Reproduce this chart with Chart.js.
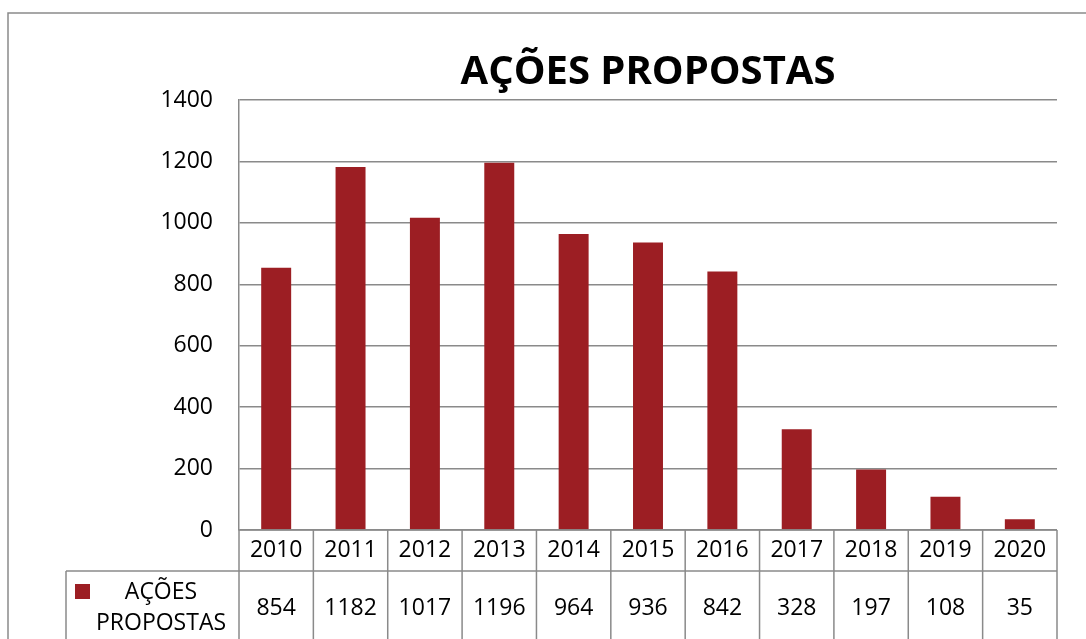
<!DOCTYPE html>
<html>
<head>
<meta charset="utf-8">
<script src="https://cdn.jsdelivr.net/npm/chart.js@4/dist/chart.umd.min.js"></script>
<style>
  body { margin: 0; background: #fff; }
  canvas { display: block; }
</style>
</head>
<body>
<canvas id="chart" width="1086" height="639"></canvas>
<script>
const years = ['2010', '2011', '2012', '2013', '2014', '2015', '2016', '2017', '2018', '2019', '2020']
const acoesPropostas = [854, 1182, 1017, 1196, 964, 936, 842, 328, 197, 108, 35]
const seriesName = 'AÇÕES PROPOSTAS'
const yMax = 1400
const yStep = 200

const barColor = '#9c1e23'
const lineColor = '#8a8a8a'
const font = '"Open Sans", sans-serif'

// excel style data table under the plot, drawn from the x scale positions
const dataTable = {
    id: 'dataTable',
    beforeDraw(chart) {
        const ctx = chart.ctx
        ctx.save()
        ctx.strokeStyle = lineColor
        ctx.lineWidth = 1.5
        ctx.beginPath()
        ctx.moveTo(8, chart.height)
        ctx.lineTo(8, 13)
        ctx.lineTo(chart.width, 13)
        ctx.stroke()
        ctx.restore()
    },
    afterDraw(chart) {
        const { ctx, chartArea } = chart
        const x = chart.scales.x
        const top = chartArea.bottom
        const mid = top + 41
        const bottom = chart.height
        const half = (x.getPixelForValue(1) - x.getPixelForValue(0)) / 2
        const legendLeft = 66

        ctx.save()
        ctx.strokeStyle = lineColor
        ctx.lineWidth = 1.5
        ctx.beginPath()
        ctx.moveTo(chartArea.left, top)
        ctx.lineTo(chartArea.right, top)
        ctx.moveTo(legendLeft, mid)
        ctx.lineTo(chartArea.right, mid)
        ctx.moveTo(legendLeft, mid)
        ctx.lineTo(legendLeft, bottom)
        for (let i = 0; i <= years.length; i++) {
            const px = x.getPixelForValue(0) - half + i * half * 2
            ctx.moveTo(px, top)
            ctx.lineTo(px, bottom)
        }
        ctx.stroke()

        ctx.fillStyle = '#000'
        ctx.font = '23px ' + font
        ctx.textAlign = 'center'
        ctx.textBaseline = 'middle'
        years.forEach((yr, i) => {
            const px = x.getPixelForValue(i)
            ctx.fillText(yr, px, top + 20.5)
            ctx.fillText(String(acoesPropostas[i]), px, mid + 37)
        })

        // legend key cell
        ctx.fillStyle = barColor
        ctx.fillRect(75, mid + 13, 15, 15)
        ctx.fillStyle = '#000'
        const words = seriesName.split(' ')
        ctx.fillText(words[0], 161, mid + 21)
        ctx.fillText(words[1], 161, mid + 52)
        ctx.restore()
    }
}

const ctx = document.getElementById('chart').getContext('2d')
new Chart(ctx, {
    type: 'bar',
    data: {
        labels: years,
        datasets: [{
            label: seriesName,
            data: acoesPropostas,
            backgroundColor: barColor,
            categoryPercentage: 1,
            barPercentage: 0.403
        }]
    },
    options: {
        responsive: false,
        animation: false,
        layout: { padding: { left: 0, right: 29, top: 0, bottom: 0 } },
        plugins: {
            legend: { display: false },
            tooltip: { enabled: false },
            title: {
                display: true,
                text: seriesName,
                fullSize: false,
                color: '#000',
                font: { family: font, size: 40, weight: 'bold', lineHeight: 1.2 },
                padding: { top: 49, bottom: 3 }
            }
        },
        scales: {
            x: {
                grid: { display: false },
                border: { display: false },
                ticks: { display: false },
                afterFit(scale) { scale.height = 109 }
            },
            y: {
                min: 0,
                max: yMax,
                ticks: {
                    stepSize: yStep,
                    color: '#000',
                    padding: 26,
                    font: { family: font, size: 23 },
                    callback: v => String(v)
                },
                grid: { color: lineColor, lineWidth: 1.5, drawTicks: false },
                border: { color: lineColor, width: 1.5 },
                afterFit(scale) { scale.width = 239 }
            }
        }
    },
    plugins: [dataTable]
})
</script>
</body>
</html>
